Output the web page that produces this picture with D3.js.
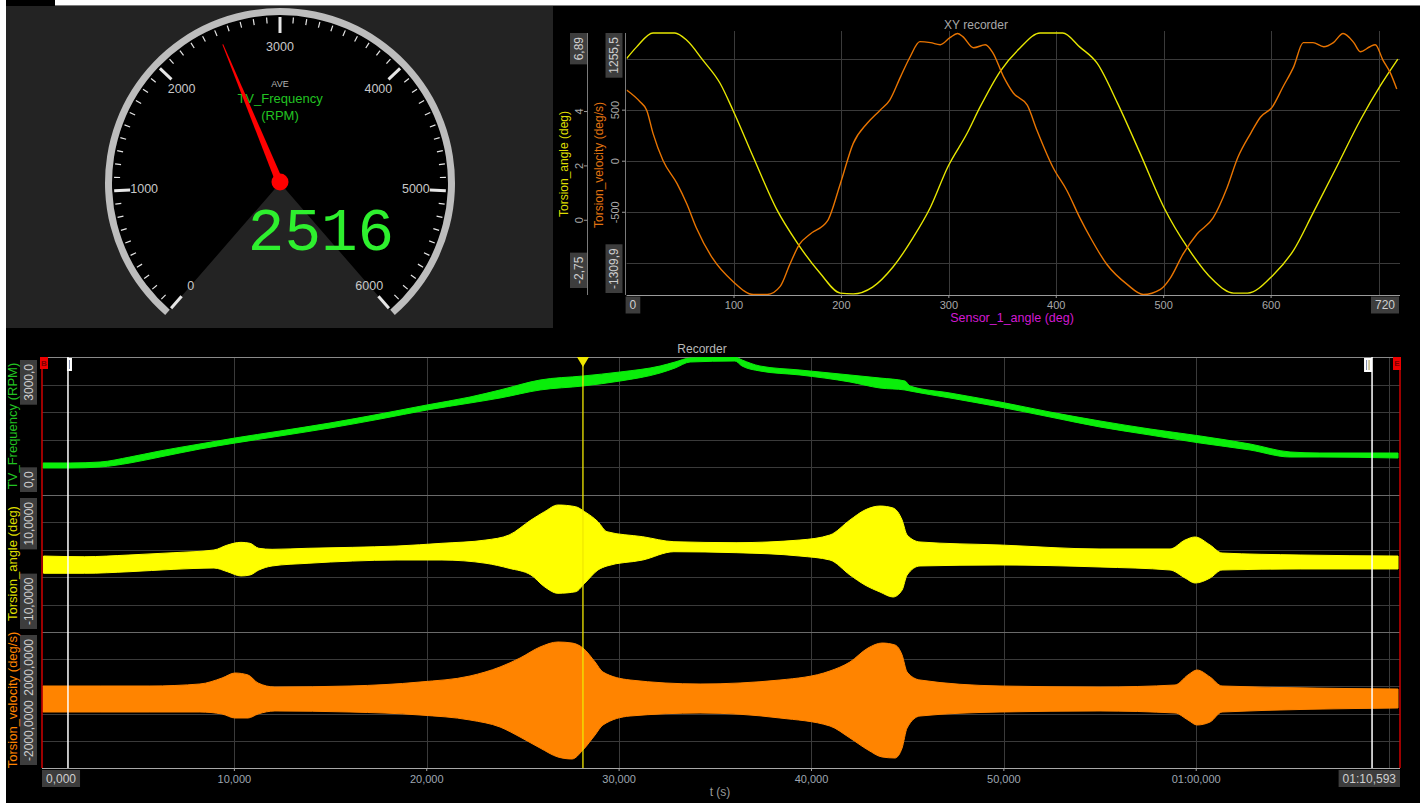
<!DOCTYPE html>
<html>
<head>
<meta charset="utf-8">
<title>Torsional vibration analysis</title>
<script src="https://cdn.jsdelivr.net/npm/d3@7/dist/d3.min.js"></script>
<style>
  html, body { margin: 0; padding: 0; background: #ffffff; }
  svg { display: block; }
  text { font-family: "Liberation Sans", Arial, sans-serif; }
  .narrow { font-family: "Liberation Sans Narrow", "Liberation Sans", Arial, sans-serif; }
  .mono { font-family: "Liberation Mono", "DejaVu Sans Mono", monospace; }
</style>
</head>
<body>
<svg id="chart"></svg>
<script>
// ---------------- Gauge ----------------
const gaugeDomain = [0, 6000];
const gaugeMajorTicks = [0, 1000, 2000, 3000, 4000, 5000, 6000];
const gaugeMinorStep = 100;
const gaugeReading = 2516;
const gaugeStatLabel = "AVE";
const gaugeChannel = ["TV_Frequency", "(RPM)"];

// ---------------- XY recorder ----------------
const xyAngleDomain = [0, 720];
const xyAngleTickLabels = [100, 200, 300, 400, 500, 600];
const xyAngleGrid = [100, 200, 300, 400, 500, 600, 700];
const xyTorsionDomain = [-2.75, 6.89];
const xyTorsionTicks = [0, 2, 4];
const xyVelocityDomain = [-1309.9, 1255.5];
const xyVelocityTicks = [-500, 0, 500];
const xyVelocityGrid = [-1000, -500, 0, 500, 1000];

// Torsion_angle (deg) against Sensor_1_angle (deg)
const xySensorAngleA = [0, 9.4, 24.6, 45, 56, 71, 87, 99, 118, 140, 159, 180, 199, 211, 229, 248, 267, 283, 299, 317,
  329, 348, 366, 385, 406, 422, 438, 457, 478, 500, 522, 546, 565, 578, 602, 621, 639, 661, 683, 702, 718];
const xyTorsionAngle = [5.95, 6.38, 6.89, 6.89, 6.62, 5.89, 5.04, 4.05, 2.32, 0.38, -0.84, -1.94, -2.68, -2.71, -2.46, -1.72, -0.62, 0.49, 1.96, 3.2,
  4.16, 5.49, 6.33, 6.89, 6.89, 6.37, 5.78, 4.31, 2.47, 0.49, -0.99, -2.2, -2.68, -2.68, -2.01, -1.1, 0.26, 1.96, 3.68, 4.97, 5.93];

// Torsion_velocity (deg/s) against Sensor_1_angle (deg)
const xySensorAngleV = [0, 12.5, 18.7, 24.6, 33.9, 47, 56, 65, 80, 99, 118, 131, 143, 152, 161, 171, 187, 199, 211, 224,
  236, 245, 255, 264, 273, 283, 292, 301, 308, 313, 323, 334, 341, 351, 360, 373, 382, 397, 410, 422,
  432, 447, 466, 481, 497, 506, 518, 531, 546, 559, 569, 581, 590, 601, 611, 621, 630, 639, 649, 658,
  667, 677, 683, 692, 697, 704, 711, 717];
const xyTorsionVelocity = [697, 582, 500, 273, 7, -220, -417, -654, -950, -1177, -1305, -1305, -1226, -1009, -812, -713, -585, -220, 175, 372,
  500, 599, 826, 1023, 1171, 1161, 1141, 1210, 1250, 1220, 1111, 1141, 1062, 826, 668, 549, 303, -62, -289, -555,
  -752, -1009, -1206, -1305, -1255, -1147, -910, -713, -555, -259, 36, 273, 431, 530, 727, 924, 1161, 1161, 1121, 1161,
  1250, 1161, 1072, 1121, 1141, 993, 865, 707];

// ---------------- Recorder ----------------
const recTimeDomain = [0, 70.593];
const recTimeTicks = [10, 20, 30, 40, 50, 60];
const recTimeGrid = [10, 20, 30, 40, 50, 60, 70];
const recCursorStart = 1.35;
const recCursorEnd = 69.14;
const recCursorLive = 28.12;

const rpmDomain = [0, 3000];
const rpmGrid = [600, 1200, 1800, 2400];
const angleDomain = [-10, 10];
const angleGrid = [-6, -2, 2, 6];
const velocityDomain = [-2000, 2000];
const velocityGrid = [-1200, -400, 400, 1200];

// TV_Frequency (RPM): min / max envelope per display column
const rpmTime = [0.05, 1.46, 3.02, 4.57, 6.13, 8.21, 10.03, 12.37, 14.97, 17.57, 20.01, 22.25, 23.81, 25.89, 28.12, 30.05, 32.13, 32.91, 33.69, 36.02,
  36.39, 37.32, 39.40, 42.00, 43.56, 44.86, 45.12, 47.20, 49.80, 52.40, 55.00, 57.60, 60.20, 62.80, 64.88, 66.43, 70.49];
const rpmMax = [696, 696, 717, 826, 957, 1109, 1239, 1391, 1565, 1761, 1957, 2130, 2283, 2500, 2587, 2674, 2804, 2891, 2978, 3000,
  2935, 2804, 2717, 2609, 2543, 2478, 2370, 2217, 2022, 1804, 1609, 1435, 1283, 1109, 935, 913, 913];
const rpmMin = [587, 587, 609, 696, 826, 1000, 1130, 1283, 1457, 1652, 1848, 2000, 2109, 2283, 2370, 2478, 2652, 2761, 2891, 2913,
  2804, 2696, 2609, 2457, 2326, 2283, 2261, 2109, 1913, 1696, 1478, 1304, 1130, 978, 826, 826, 804];

// Torsion_angle (deg): min / max envelope
const angleTime = [0.08, 2.21, 4.52, 6.86, 8.94, 9.64, 10.34, 10.81, 11.27, 11.96, 13.83, 16.14, 18.45, 20.79, 23.08, 24.28, 25.42, 26.12, 26.82, 27.74,
  28.21, 28.90, 29.37, 31.23, 32.85, 36.08, 39.40, 40.96, 42.00, 42.78, 43.56, 44.24, 44.71, 44.97, 45.64, 49.80, 55.00, 58.64, 59.42, 59.94,
  60.72, 61.34, 65.40, 70.49];
const angleMax = [1.09, 0.99, 1.24, 1.58, 1.97, 2.70, 3.09, 2.95, 2.22, 2.07, 2.22, 2.36, 2.55, 2.95, 3.43, 4.16, 6.35, 7.56, 8.54, 8.29,
  7.56, 6.10, 4.64, 3.91, 3.18, 3.04, 3.43, 4.16, 6.35, 7.81, 8.39, 8.10, 6.35, 4.16, 3.14, 2.70, 2.12, 2.12, 3.43, 3.87,
  2.70, 1.53, 1.24, 1.09];
const angleMin = [-1.43, -1.43, -1.20, -0.85, -0.66, -1.20, -1.82, -1.68, -0.95, -0.36, 0.03, 0.36, 0.51, 0.51, 0.03, -0.70, -1.68, -3.39, -4.35, -4.12,
  -2.89, -0.95, -0.36, 0.51, 1.72, 1.58, 1.09, 0.51, -1.68, -3.14, -4.16, -4.89, -3.87, -1.68, -0.36, -0.22, -0.51, -0.95, -2.12, -2.85,
  -2.12, -0.95, -0.80, -0.80];

// Torsion_velocity (deg/s): min / max envelope
const velocityTime = [0.05, 3.02, 5.61, 8.21, 9.36, 10.03, 10.71, 11.23, 12.11, 16.01, 19.65, 22.25, 23.81, 24.85, 25.89, 26.82, 27.55, 28.12, 28.75, 29.16,
  30.57, 34.21, 38.36, 40.96, 42.00, 42.94, 43.67, 44.34, 44.71, 44.97, 45.64, 49.80, 55.00, 58.90, 59.57, 60.04, 60.72, 61.34, 70.49];
const velocityMax = [412, 412, 412, 471, 647, 794, 735, 500, 382, 412, 529, 706, 971, 1235, 1559, 1706, 1676, 1529, 1118, 823,
  588, 471, 588, 853, 1118, 1529, 1676, 1618, 1323, 823, 588, 412, 382, 441, 735, 882, 676, 412, 323];
const velocityMin = [-353, -353, -353, -353, -412, -529, -529, -412, -323, -353, -441, -588, -794, -1088, -1412, -1676, -1735, -1470, -1029, -735,
  -471, -382, -529, -765, -1118, -1470, -1676, -1706, -1412, -823, -471, -353, -323, -382, -588, -735, -647, -353, -235];

// ---------------------------------------------------------------
const W = 1428, H = 803;
const svg = d3.select('#chart').attr('width', W).attr('height', H);
const rad = d => d * Math.PI / 180;
const comma = (v, p) => d3.format(`.${p}f`)(v).replace('.', ',').replace('\u2212', '-');

const BOX_FILL = '#3d3d3d', BOX_TEXT = '#cfcfcf', GRID = '#3a3a3a';

// window frame
svg.append('rect').attr('width', W).attr('height', H).attr('fill', '#ffffff');
svg.append('rect').attr('x', 6).attr('y', 0).attr('width', 1414).attr('height', H).attr('fill', '#000000');
svg.append('rect').attr('x', 55).attr('y', 0).attr('width', 1365).attr('height', 5).attr('fill', '#ffffff');
svg.append('line').attr('x1', 55).attr('x2', 1420).attr('y1', 5.5).attr('y2', 5.5).attr('stroke', '#7a7a7a');

// vertical label in a grey box; anchor 'start' = box begins at pos, 'end' = box ends at pos
function vBox(cx, pos, anchor, label, size) {
  const g = svg.append('g');
  const r = g.append('rect').attr('fill', BOX_FILL);
  const t = g.append('text').attr('class', 'narrow').attr('font-size', size).attr('fill', BOX_TEXT)
    .attr('text-anchor', 'middle').attr('dominant-baseline', 'central').text(label);
  const len = t.node().getComputedTextLength() + 8;
  const cy = anchor === 'start' ? pos + len / 2 : pos - len / 2;
  t.attr('transform', `translate(${cx},${cy}) rotate(-90)`);
  r.attr('x', cx - 8.5).attr('y', cy - len / 2).attr('width', 17).attr('height', len);
}
// horizontal label in a grey box
function hBox(x, y, anchor, label, size) {
  const g = svg.append('g');
  const r = g.append('rect').attr('fill', BOX_FILL);
  const t = g.append('text').attr('class', 'narrow').attr('font-size', size).attr('fill', BOX_TEXT)
    .attr('text-anchor', 'middle').attr('dominant-baseline', 'central').text(label);
  const len = t.node().getComputedTextLength() + 8;
  const cx = anchor === 'start' ? x + len / 2 : x - len / 2;
  t.attr('x', cx).attr('y', y);
  r.attr('x', cx - len / 2).attr('y', y - 8.5).attr('width', len).attr('height', 17);
}

// ================= Gauge =================
svg.append('rect').attr('x', 6).attr('y', 6).attr('width', 547).attr('height', 322).attr('fill', '#232323');
const gCx = 280, gCy = 183, faceR = 168, ringR = 175, needleLength = 150;
const gaugeAngle = d3.scaleLinear().domain(gaugeDomain).range([-139, 139]);
const gauge = svg.append('g').attr('transform', `translate(${gCx},${gCy})`);
const sweep = { startAngle: rad(gaugeAngle(gaugeDomain[0])), endAngle: rad(gaugeAngle(gaugeDomain[1])) };
gauge.append('path').attr('d', d3.arc()({ innerRadius: 0, outerRadius: faceR, ...sweep })).attr('fill', '#000000');
gauge.append('path').attr('d', d3.arc()({ innerRadius: faceR, outerRadius: ringR, ...sweep })).attr('fill', '#bdbdbd');

const polar = (r, v) => { const a = rad(gaugeAngle(v)); return [r * Math.sin(a), -r * Math.cos(a)]; };
d3.range(gaugeDomain[0], gaugeDomain[1] + 1, gaugeMinorStep).forEach(v => {
  const major = gaugeMajorTicks.includes(v);
  const [x1, y1] = polar(major ? 150 : 160, v), [x2, y2] = polar(166, v);
  gauge.append('line').attr('x1', x1).attr('y1', y1).attr('x2', x2).attr('y2', y2)
    .attr('stroke', '#e6e6e6').attr('stroke-width', major ? 3 : 1.2);
});
gaugeMajorTicks.forEach(v => {
  const [x, y] = polar(136, v);
  gauge.append('text').attr('x', x).attr('y', y).attr('text-anchor', 'middle').attr('dominant-baseline', 'central')
    .attr('font-size', 12.5).attr('fill', '#c8c8c8').text(v);
});
gauge.append('text').attr('x', 0).attr('y', -96).attr('text-anchor', 'middle').attr('font-size', 9)
  .attr('fill', '#b4b4b4').text(gaugeStatLabel);
gauge.append('text').attr('x', 0).attr('y', -80).attr('text-anchor', 'middle').attr('font-size', 13)
  .attr('fill', '#22c322').text(gaugeChannel[0]);
gauge.append('text').attr('x', 0).attr('y', -63).attr('text-anchor', 'middle').attr('font-size', 13)
  .attr('fill', '#22c322').text(gaugeChannel[1]);
gauge.append('text').attr('class', 'mono').attr('x', 41).attr('y', 67).attr('text-anchor', 'middle')
  .attr('font-size', 61).attr('fill', '#2ef02e').text(gaugeReading);
const needle = gauge.append('g').attr('transform', `rotate(${gaugeAngle(gaugeReading)})`);
needle.append('path').attr('d', `M-3.8,0 L-0.5,${-needleLength} L0.5,${-needleLength} L3.8,0 Z`).attr('fill', '#ff0000');
gauge.append('circle').attr('cx', 0).attr('cy', -1).attr('r', 8.5).attr('fill', '#ff0000');

// ================= XY recorder =================
const xy = { left: 626.6, right: 1400, top: 33, bottom: 295 };
const xyX = d3.scaleLinear().domain(xyAngleDomain).range([xy.left, xy.right]);
const xyYA = d3.scaleLinear().domain(xyTorsionDomain).range([xy.bottom, xy.top]);
const xyYV = d3.scaleLinear().domain(xyVelocityDomain).range([xy.bottom, xy.top]);

svg.append('text').attr('x', 976).attr('y', 29).attr('text-anchor', 'middle').attr('font-size', 12)
  .attr('fill', '#a8a8a8').text('XY recorder');

xyVelocityGrid.forEach(v => svg.append('line').attr('x1', xy.left).attr('x2', xy.right)
  .attr('y1', Math.round(xyYV(v)) + 0.5).attr('y2', Math.round(xyYV(v)) + 0.5).attr('stroke', GRID));
xyAngleGrid.forEach(v => svg.append('line').attr('y1', xy.top - 2).attr('y2', xy.bottom)
  .attr('x1', Math.round(xyX(v)) + 0.5).attr('x2', Math.round(xyX(v)) + 0.5).attr('stroke', GRID));

svg.append('defs').append('clipPath').attr('id', 'xyClip').append('rect')
  .attr('x', xy.left).attr('y', xy.top - 1).attr('width', xy.right - xy.left).attr('height', xy.bottom - xy.top + 2);
const xyPlot = svg.append('g').attr('clip-path', 'url(#xyClip)');
xyPlot.append('path')
  .datum(xySensorAngleA.map((a, i) => [a, xyTorsionAngle[i]]))
  .attr('d', d3.line().x(d => xyX(d[0])).y(d => xyYA(d[1])).curve(d3.curveMonotoneX))
  .attr('fill', 'none').attr('stroke', '#e6e600').attr('stroke-width', 1.4);
xyPlot.append('path')
  .datum(xySensorAngleV.map((a, i) => [a, xyTorsionVelocity[i]]))
  .attr('d', d3.line().x(d => xyX(d[0])).y(d => xyYV(d[1])).curve(d3.curveMonotoneX))
  .attr('fill', 'none').attr('stroke', '#e87400').attr('stroke-width', 1.4);

// XY axes
svg.append('line').attr('x1', xy.left).attr('x2', xy.right).attr('y1', xy.bottom + 0.5).attr('y2', xy.bottom + 0.5).attr('stroke', '#9a9a9a');
svg.append('line').attr('x1', 587.5).attr('x2', 587.5).attr('y1', xy.top).attr('y2', xy.bottom).attr('stroke', '#7a7a7a');
svg.append('line').attr('x1', 625.5).attr('x2', 625.5).attr('y1', xy.top).attr('y2', xy.bottom).attr('stroke', '#7a7a7a');
xyAngleTickLabels.forEach(v => {
  svg.append('line').attr('x1', xyX(v)).attr('x2', xyX(v)).attr('y1', xy.bottom).attr('y2', xy.bottom + 3).attr('stroke', '#9a9a9a');
  svg.append('text').attr('class', 'narrow').attr('x', xyX(v)).attr('y', 305).attr('text-anchor', 'middle')
    .attr('dominant-baseline', 'central').attr('font-size', 11).attr('fill', '#a8a8a8').text(v);
});
xyTorsionTicks.forEach(v => {
  svg.append('line').attr('x1', 584).attr('x2', 587.5).attr('y1', xyYA(v)).attr('y2', xyYA(v)).attr('stroke', '#9a9a9a');
  svg.append('text').attr('class', 'narrow').attr('transform', `translate(579,${xyYA(v)}) rotate(-90)`)
    .attr('text-anchor', 'middle').attr('dominant-baseline', 'central').attr('font-size', 11).attr('fill', '#a8a8a8').text(v);
});
xyVelocityTicks.forEach(v => {
  svg.append('line').attr('x1', 622).attr('x2', 625.5).attr('y1', xyYV(v)).attr('y2', xyYV(v)).attr('stroke', '#9a9a9a');
  svg.append('text').attr('class', 'narrow').attr('transform', `translate(615,${xyYV(v)}) rotate(-90)`)
    .attr('text-anchor', 'middle').attr('dominant-baseline', 'central').attr('font-size', 11).attr('fill', '#a8a8a8').text(v);
});
vBox(578.5, xy.top, 'start', comma(xyTorsionDomain[1], 2), 12);
vBox(578.5, xy.bottom - 7, 'end', comma(xyTorsionDomain[0], 2), 12);
vBox(614, xy.top, 'start', comma(xyVelocityDomain[1], 1), 12);
vBox(614, xy.bottom - 2, 'end', comma(xyVelocityDomain[0], 1), 12);
hBox(xy.left - 1, 305, 'start', String(xyAngleDomain[0]), 12);
hBox(xy.right - 1, 305, 'end', String(xyAngleDomain[1]), 12);

svg.append('text').attr('transform', `translate(564,164) rotate(-90)`).attr('text-anchor', 'middle')
  .attr('dominant-baseline', 'central').attr('font-size', 12).attr('fill', '#dede00').text('Torsion_angle (deg)');
svg.append('text').attr('transform', `translate(599,165) rotate(-90)`).attr('text-anchor', 'middle')
  .attr('dominant-baseline', 'central').attr('font-size', 12).attr('fill', '#e27410').text('Torsion_velocity (deg/s)');
svg.append('text').attr('x', 1012).attr('y', 322).attr('text-anchor', 'middle').attr('font-size', 12.5)
  .attr('fill', '#d21ad2').text('Sensor_1_angle (deg)');

// ================= Recorder =================
const rec = { left: 42, right: 1400, top: 357, bottom: 768 };
const bands = [
  { top: 357, bottom: 495, domain: rpmDomain, grid: rpmGrid, dec: 1, color: '#0aee0a', title: 'TV_Frequency (RPM)', titleColor: '#22c322' },
  { top: 495, bottom: 632, domain: angleDomain, grid: angleGrid, dec: 4, color: '#ffff00', title: 'Torsion_angle (deg)', titleColor: '#dede00' },
  { top: 632, bottom: 768, domain: velocityDomain, grid: velocityGrid, dec: 4, color: '#ff8400', title: 'Torsion_velocity (deg/s)', titleColor: '#ff8400' }
];
const recX = d3.scaleLinear().domain(recTimeDomain).range([rec.left, rec.right]);
bands.forEach(b => { b.y = d3.scaleLinear().domain(b.domain).range([b.bottom, b.top]); });

svg.append('text').attr('x', 702).attr('y', 353).attr('text-anchor', 'middle').attr('font-size', 12)
  .attr('fill', '#b8b8b8').text('Recorder');

const defs = svg.select('defs');
bands.forEach((b, i) => {
  b.grid.forEach(v => svg.append('line').attr('x1', rec.left).attr('x2', rec.right)
    .attr('y1', Math.round(b.y(v)) + 0.5).attr('y2', Math.round(b.y(v)) + 0.5).attr('stroke', GRID));
  defs.append('clipPath').attr('id', `band${i}`).append('rect')
    .attr('x', rec.left).attr('y', b.top).attr('width', rec.right - rec.left).attr('height', b.bottom - b.top);
  defs.append('clipPath').attr('id', `title${i}`).append('rect')
    .attr('x', 0).attr('y', b.top).attr('width', 40).attr('height', b.bottom - b.top);
});
recTimeGrid.forEach(t => svg.append('line').attr('y1', rec.top).attr('y2', rec.bottom)
  .attr('x1', Math.round(recX(t)) + 0.5).attr('x2', Math.round(recX(t)) + 0.5).attr('stroke', GRID));
[495, 632].forEach(y => svg.append('line').attr('x1', rec.left).attr('x2', rec.right)
  .attr('y1', y + 0.5).attr('y2', y + 0.5).attr('stroke', '#6a6a6a'));
svg.append('line').attr('x1', rec.left).attr('x2', rec.right).attr('y1', rec.top + 0.5).attr('y2', rec.top + 0.5).attr('stroke', '#8a8a8a');

function envelope(bandIndex, times, lows, highs) {
  const b = bands[bandIndex];
  const data = times.map((t, i) => ({ t, lo: lows[i], hi: highs[i] }));
  svg.append('g').attr('clip-path', `url(#band${bandIndex})`).append('path').datum(data)
    .attr('d', d3.area().x(d => recX(d.t)).y0(d => b.y(d.lo)).y1(d => b.y(d.hi)).curve(d3.curveMonotoneX))
    .attr('fill', b.color).attr('stroke', b.color).attr('stroke-width', 1);
}
envelope(0, rpmTime, rpmMin, rpmMax);
envelope(1, angleTime, angleMin, angleMax);
envelope(2, velocityTime, velocityMin, velocityMax);

// cursors
const vLine = (t, color, w) => svg.append('line').attr('x1', recX(t)).attr('x2', recX(t))
  .attr('y1', rec.top).attr('y2', rec.bottom).attr('stroke', color).attr('stroke-width', w);
vLine(recTimeDomain[0], '#d00000', 1.5);
vLine(recTimeDomain[1], '#d00000', 1.5);
vLine(recCursorStart, '#ffffff', 1.5);
vLine(recCursorEnd, '#ffffff', 1.5);
vLine(recCursorLive, '#f0e800', 1.3);

const xs = recX(recCursorStart), xe = recX(recCursorEnd), xl = recX(recCursorLive);
svg.append('rect').attr('x', xs - 1).attr('y', rec.top + 1).attr('width', 5).attr('height', 13).attr('fill', '#ffffff');
svg.append('line').attr('x1', xs + 1.5).attr('x2', xs + 1.5).attr('y1', rec.top + 3).attr('y2', rec.top + 12).attr('stroke', '#7f8aa8');
svg.append('rect').attr('x', xe - 8).attr('y', rec.top + 1).attr('width', 8).attr('height', 14).attr('fill', '#ffffff');
svg.append('line').attr('x1', xe - 5.5).attr('x2', xe - 5.5).attr('y1', rec.top + 3).attr('y2', rec.top + 13).attr('stroke', '#7f8aa8');
svg.append('line').attr('x1', xe - 3).attr('x2', xe - 3).attr('y1', rec.top + 3).attr('y2', rec.top + 13).attr('stroke', '#a89a50');
svg.append('path').attr('d', `M${xl - 6},${rec.top} L${xl + 6},${rec.top} L${xl},${rec.top + 10} Z`).attr('fill', '#f0e800');

const x0 = recX(recTimeDomain[0]), x1 = recX(recTimeDomain[1]);
svg.append('rect').attr('x', x0 - 2).attr('y', rec.top).attr('width', 8).attr('height', 12).attr('fill', '#ee0000');
svg.append('text').attr('x', x0 + 2).attr('y', rec.top + 6).attr('text-anchor', 'middle').attr('dominant-baseline', 'central')
  .attr('font-size', 8).attr('font-weight', 'bold').attr('fill', '#7a0000').text('B');
svg.append('rect').attr('x', x1 - 7).attr('y', rec.top).attr('width', 8).attr('height', 13).attr('fill', '#ee0000');
svg.append('text').attr('x', x1 - 3).attr('y', rec.top + 6.5).attr('text-anchor', 'middle').attr('dominant-baseline', 'central')
  .attr('font-size', 8).attr('font-weight', 'bold').attr('fill', '#7a0000').text('E');

// left axis labels
bands.forEach((b, i) => {
  vBox(28.5, b.top + 3, 'start', comma(b.domain[1], b.dec), 12);
  vBox(28.5, b.bottom - 3, 'end', comma(b.domain[0], b.dec), 12);
  svg.append('g').attr('clip-path', `url(#title${i})`).append('text')
    .attr('transform', `translate(12.5,${(b.top + b.bottom) / 2}) rotate(-90)`)
    .attr('text-anchor', 'middle').attr('dominant-baseline', 'central').attr('font-size', 13)
    .attr('fill', b.titleColor).text(b.title);
});

// time axis
svg.append('line').attr('x1', rec.left).attr('x2', rec.right).attr('y1', rec.bottom + 0.5).attr('y2', rec.bottom + 0.5).attr('stroke', '#a8a8a8');
const timeLabel = t => {
  const m = Math.floor(t / 60), s = t - m * 60;
  const sec = comma(s, 3);
  return m > 0 ? `${String(m).padStart(2, '0')}:${s < 10 ? '0' : ''}${sec}` : sec;
};
recTimeTicks.forEach(t => {
  svg.append('line').attr('x1', recX(t)).attr('x2', recX(t)).attr('y1', rec.bottom).attr('y2', rec.bottom + 3).attr('stroke', '#a8a8a8');
  svg.append('text').attr('class', 'narrow').attr('x', recX(t)).attr('y', 779).attr('text-anchor', 'middle')
    .attr('dominant-baseline', 'central').attr('font-size', 11).attr('fill', '#9ea6b0').text(timeLabel(t));
});
hBox(rec.left, 778.5, 'start', timeLabel(recTimeDomain[0]), 12);
hBox(rec.right, 778.5, 'end', timeLabel(recTimeDomain[1]), 12);
svg.append('text').attr('x', 720).attr('y', 792).attr('text-anchor', 'middle').attr('dominant-baseline', 'central')
  .attr('font-size', 12).attr('fill', '#9a9a9a').text('t (s)');
</script>
</body>
</html>
